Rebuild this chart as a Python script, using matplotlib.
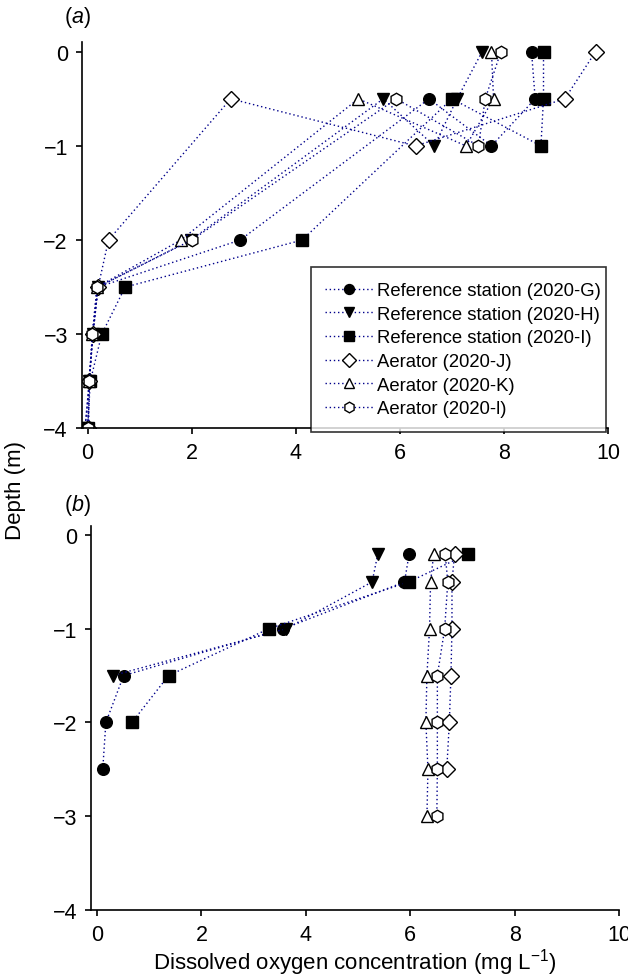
import matplotlib
matplotlib.use("Agg")
import matplotlib.pyplot as plt

plt.rcParams['font.family'] = ['Liberation Sans', 'DejaVu Sans']
plt.rcParams['mathtext.fontset'] = 'custom'
plt.rcParams['mathtext.rm'] = 'Liberation Sans'
plt.rcParams['mathtext.it'] = 'Liberation Sans:italic'

# ---- data ----
labels = ["Reference station (2020-G)", "Reference station (2020-H)",
          "Reference station (2020-I)", "Aerator (2020-J)",
          "Aerator (2020-K)", "Aerator (2020-l)"]

# Panel (a): depth sequence as plotted (note the repeated -0.5 m)
depth_a = [0, -0.5, -1, -0.5, -2, -2.5, -3, -3.5, -4]
do_a_G = [8.53, 8.60, 7.76, 6.56, 2.93, 0.20, 0.10, 0.03, -0.05]
do_a_H = [7.58, 7.10, 6.66, 5.68, 1.98, 0.20, 0.10, 0.03, -0.05]
do_a_I = [8.76, 8.76, 8.71, 7.00, 4.12, 0.72, 0.27, 0.05, 0.00]
do_a_J = [9.76, 9.17, 6.30, 2.75, 0.40, 0.20, 0.10, 0.03, 0.00]
do_a_K = [7.76, 7.80, 7.27, 5.20, 1.79, 0.18, 0.09, 0.03, 0.02]
do_a_L = [7.94, 7.64, 7.51, 5.93, 2.00, 0.18, 0.09, 0.03, 0.00]

# Panel (b)
depth_b_G = [-0.2, -0.5, -1, -1.5, -2, -2.5]
do_b_G = [5.98, 5.89, 3.57, 0.51, 0.17, 0.11]
depth_b_H = [-0.2, -0.5, -1, -1.5]
do_b_H = [5.38, 5.27, 3.62, 0.30]
depth_b_I = [-0.2, -0.5, -1, -1.5, -2]
do_b_I = [7.11, 5.97, 3.29, 1.37, 0.67]
depth_b_J = [-0.2, -0.5, -1, -1.5, -2, -2.5]
do_b_J = [6.85, 6.80, 6.80, 6.78, 6.75, 6.70]
depth_b_K = [-0.2, -0.5, -1, -1.5, -2, -2.5, -3]
do_b_K = [6.45, 6.39, 6.37, 6.32, 6.30, 6.34, 6.32]
depth_b_L = [-0.2, -0.5, -1, -1.5, -2, -2.5, -3]
do_b_L = [6.67, 6.72, 6.66, 6.52, 6.52, 6.52, 6.51]

x_ticks = [0, 2, 4, 6, 8, 10]
y_ticks = [0, -1, -2, -3, -4]

# ---- styles ----
line_color = '#00008B'
styles = [
    dict(marker='o', mfc='black', mec='black', ms=8.4),
    dict(marker='v', mfc='black', mec='black', ms=9.0),
    dict(marker='s', mfc='black', mec='black', ms=8.2),
    dict(marker='D', mfc='white', mec='black', ms=7.8, mew=1.0),
    dict(marker='^', mfc='white', mec='black', ms=9.0, mew=1.0),
    dict(marker='h', mfc='white', mec='black', ms=9.0, mew=1.0),
]

fig = plt.figure(figsize=(6.28, 9.78), dpi=100)
ax_a = fig.add_axes([0.1301, 0.5610, 0.8381, 0.3947])
ax_b = fig.add_axes([0.1449, 0.0688, 0.8408, 0.3926])

series_a = [do_a_G, do_a_H, do_a_I, do_a_J, do_a_K, do_a_L]
for vals, lab, st in zip(series_a, labels, styles):
    ax_a.plot(vals, depth_a, linestyle=(0, (1, 2)), color=line_color, lw=1.0,
              label=lab, **st)

series_b = [(do_b_G, depth_b_G), (do_b_H, depth_b_H), (do_b_I, depth_b_I),
            (do_b_J, depth_b_J), (do_b_K, depth_b_K), (do_b_L, depth_b_L)]
for (vals, deps), lab, st in zip(series_b, labels, styles):
    ax_b.plot(vals, deps, linestyle=(0, (1, 2)), color=line_color, lw=1.0,
              label=lab, **st)

for ax in (ax_a, ax_b):
    ax.set_xlim(-0.115, 10)
    ax.set_ylim(-4, 0.1)
    ax.set_xticks(x_ticks)
    ax.set_yticks(y_ticks)
    ax.spines['top'].set_visible(False)
    ax.spines['right'].set_visible(False)
    for s in ('left', 'bottom'):
        ax.spines[s].set_linewidth(1.2)
    ax.tick_params(direction='out', length=4, width=1.2, labelsize=15.5, pad=6)
    for lbl in ax.get_xticklabels() + ax.get_yticklabels():
        lbl.set_clip_on(False)

leg = ax_a.legend(loc='center', bbox_to_anchor=(0.435, -0.006, 0.562, 0.419),
                  mode='expand', borderaxespad=0, fontsize=13.3,
                  frameon=True, fancybox=False, edgecolor='black',
                  handlelength=2.6, handletextpad=0.2, labelspacing=0.36,
                  borderpad=0.8, markerscale=0.85)
leg.get_frame().set_linewidth(1.2)
leg.set_zorder(5)

fig.text(355/628, 1 - 963/978,
         'Dissolved oxygen concentration (mg L$^{\u2212\\mathrm{1}}$)',
         ha='center', va='center', fontsize=16)
fig.text(15/628, 1 - 490/978, 'Depth (m)', rotation=90, ha='center',
         va='center', fontsize=16)
fig.text(77/628, 1 - 18/978, '($\\it{a}$)', ha='center', va='center', fontsize=15.5)
fig.text(77/628, 1 - 505/978, '($\\it{b}$)', ha='center', va='center', fontsize=15.5)

fig.savefig('out.png', dpi=100)
